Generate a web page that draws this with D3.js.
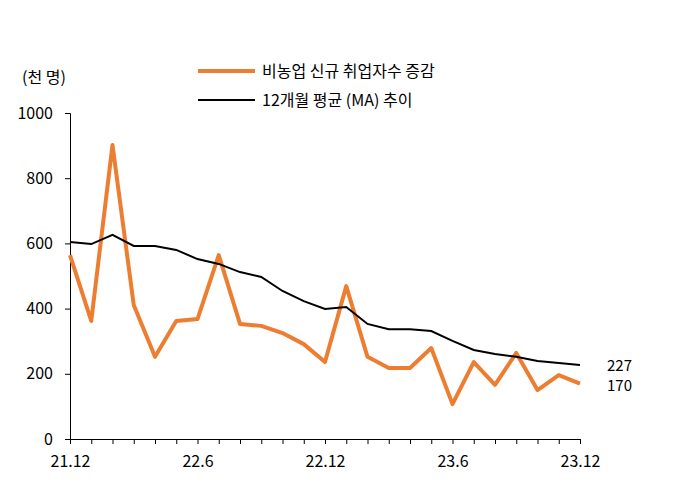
<!DOCTYPE html>
<html><head><meta charset="utf-8">
<script src="https://cdn.jsdelivr.net/npm/d3@7"></script>
<style>body{margin:0;background:#fff}text{font-family:"Noto Sans CJK KR","Noto Sans",sans-serif}</style>
</head><body><svg width="691" height="489"></svg>
<script>
var months = ["21.12","22.1","22.2","22.3","22.4","22.5","22.6","22.7","22.8","22.9","22.10","22.11","22.12",
  "23.1","23.2","23.3","23.4","23.5","23.6","23.7","23.8","23.9","23.10","23.11","23.12"];
var payrolls = [564,362,902,411,252,362,368,564,353,347,325,291,236,469,252,218,218,279,107,236,166,264,150,196,170];
var movingAvg = [604,598,626,592,592,580,552,537,512,497,454,423,399,405,353,337,337,331,301,273,261,252,239,233,227];
var xLabels = ["21.12","22.6","22.12","23.6","23.12"];
var yTicks = [0,200,400,600,800,1000];

var svg = d3.select("svg");
var x = d3.scalePoint().domain(months).range([70,580]);
var y = d3.scaleLinear().domain([0,1000]).range([439,113]);

svg.append("g").attr("transform","translate(70,0)")
  .call(d3.axisLeft(y).tickValues(yTicks).tickFormat(d3.format("d")).tickSize(5).tickPadding(12))
  .call(g=>g.selectAll("text").attr("font-size",16).attr("fill","#000"))
  .call(g=>g.selectAll("line,path").attr("stroke","#000"));
svg.append("g").attr("transform","translate(0,439)")
  .call(d3.axisBottom(x).tickSize(5).tickSizeOuter(0).tickPadding(12).tickFormat(d=>xLabels.includes(d)?d:""))
  .call(g=>g.selectAll("text").attr("font-size",16).attr("fill","#000"))
  .call(g=>g.selectAll("line,path").attr("stroke","#000"));

var line = d3.line().x((d,i)=>x(months[i])).y(d=>y(d));
svg.append("path").datum(payrolls).attr("d",line).attr("fill","none").attr("stroke","#ED7D31").attr("stroke-width",4).attr("stroke-linejoin","round");
svg.append("path").datum(movingAvg).attr("d",line).attr("fill","none").attr("stroke","#000").attr("stroke-width",2);

svg.append("text").attr("x",22).attr("y",83).attr("font-size",16).text("(천 명)");
svg.append("text").attr("x",607).attr("y",371).attr("font-size",15).text(movingAvg[movingAvg.length-1]);
svg.append("text").attr("x",607).attr("y",391).attr("font-size",15).text(payrolls[payrolls.length-1]);

var legend = [["비농업 신규 취업자수 증감","#ED7D31",4],["12개월 평균 (MA) 추이","#000",2]];
legend.forEach(function(l,i){
  var ly = 71 + i*29;
  svg.append("line").attr("x1",198).attr("x2",255).attr("y1",ly).attr("y2",ly).attr("stroke",l[1]).attr("stroke-width",l[2]);
  svg.append("text").attr("x",262).attr("y",ly+6).attr("font-size",16).text(l[0]);
});
</script></body></html>
